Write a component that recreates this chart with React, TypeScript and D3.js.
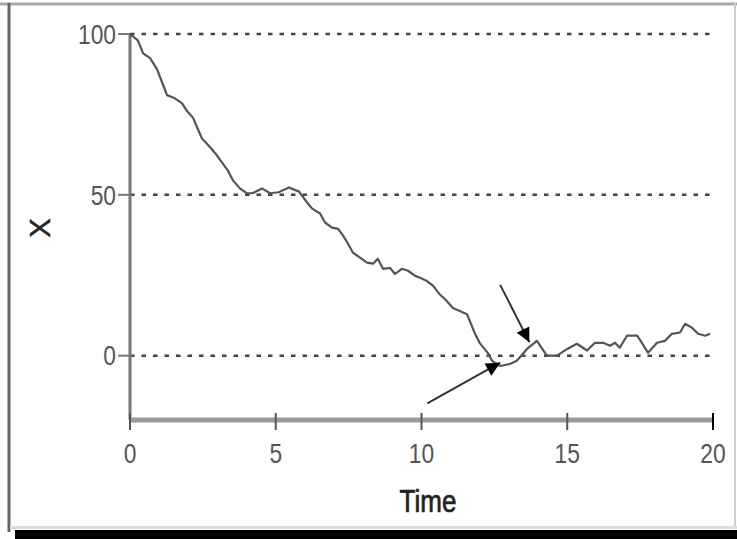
import React, { useEffect, useRef } from 'react'
import * as d3 from 'd3'

// time samples and X values
const times = [0, 0.27, 0.45, 0.69, 0.93, 1.1, 1.27, 1.54, 1.78, 1.96, 2.16, 2.3, 2.47, 2.68, 2.92, 3.16, 3.36, 3.53, 3.77, 4.0, 4.2, 4.53, 4.8, 5.1, 5.45, 5.8, 6.07, 6.24, 6.52, 6.69, 6.93, 7.14, 7.31, 7.48, 7.65, 7.89, 8.13, 8.34, 8.5, 8.68, 8.92, 9.09, 9.33, 9.54, 9.78, 9.95, 10.19, 10.4, 10.63, 10.8, 11.08, 11.56, 11.73, 11.84, 12.0, 12.28, 12.42, 12.7, 13.03, 13.27, 13.62, 13.96, 14.3, 14.65, 15.0, 15.33, 15.68, 15.95, 16.23, 16.47, 16.64, 16.8, 17.05, 17.4, 17.56, 17.77, 18.08, 18.35, 18.59, 18.87, 19.04, 19.28, 19.49, 19.73, 19.9]
const xValues = [100, 98, 94, 92.5, 89, 85, 81, 80, 78.5, 76, 74, 71, 67.5, 65.5, 63, 60, 57.5, 54.5, 52, 50.5, 50.5, 52, 50.5, 50.8, 52.3, 51, 47.7, 45.8, 44.2, 41.4, 39.8, 39.4, 37.3, 34.8, 32, 30.5, 28.9, 28.6, 30.1, 27, 27.3, 25.4, 27, 26.4, 24.8, 24.2, 23.2, 21.7, 19, 17.6, 14.8, 12.9, 9.2, 6.7, 3.9, 0.8, -1.6, -3.2, -2.6, -1.6, 2.1, 4.6, 0, 0, 2.1, 3.7, 1.6, 4, 4, 3.1, 4, 2.5, 6.2, 6.2, 4, 0.9, 4, 4.6, 6.8, 7.2, 9.9, 8.7, 6.8, 6.2, 6.8]

const xTicks = [0, 5, 10, 15, 20]
const yTicks = [0, 50, 100]

// arrows: [fromTime, fromX, toTime, toX]
const arrows = [
    [10.2, -14.8, 12.7, -2.2],
    [12.7, 22, 13.7, 4.2]
]

const font = 'Liberation Sans, Arial, sans-serif'

export default function App() {
    const ref = useRef(null)

    useEffect(() => {
        const width = 737
        const height = 539
        const svg = d3.select(ref.current)
        svg.selectAll('*').remove()

        /* frame */
        svg.append('rect').attr('width', width).attr('height', height).attr('fill', '#fff')
        svg.append('line').attr('x1', 0).attr('x2', width).attr('y1', 4).attr('y2', 4)
            .attr('stroke', '#aaa').attr('stroke-width', 3)
        svg.append('line').attr('x1', 9).attr('x2', 9).attr('y1', 3).attr('y2', 532)
            .attr('stroke', '#666').attr('stroke-width', 3)
        svg.append('line').attr('x1', 735).attr('x2', 735).attr('y1', 3).attr('y2', 527)
            .attr('stroke', '#ccc').attr('stroke-width', 2)
        svg.append('line').attr('x1', 10).attr('x2', width).attr('y1', 527.5).attr('y2', 527.5)
            .attr('stroke', '#ddd').attr('stroke-width', 3)
        svg.append('rect').attr('x', 15).attr('y', 530).attr('width', width - 15).attr('height', 9)
            .attr('fill', '#000')

        /* scales */
        const xScale = d3.scaleLinear().domain([0, 20]).range([130, 713])
        const yScale = d3.scaleLinear().domain([-20, 100]).range([420, 34])

        /* grid */
        svg.append('g').selectAll('line').data(yTicks).enter().append('line')
            .attr('x1', xScale(0)).attr('x2', xScale(20))
            .attr('y1', d => yScale(d)).attr('y2', d => yScale(d))
            .attr('stroke', '#444').attr('stroke-width', 2.5)
            .attr('stroke-dasharray', '4.5 7')

        /* y axis */
        svg.append('line').attr('x1', xScale(0)).attr('x2', xScale(0))
            .attr('y1', yScale(100)).attr('y2', yScale(-20))
            .attr('stroke', '#777').attr('stroke-width', 3)
        svg.append('g').selectAll('line').data(yTicks).enter().append('line')
            .attr('x1', xScale(0) - 12).attr('x2', xScale(0))
            .attr('y1', d => yScale(d)).attr('y2', d => yScale(d))
            .attr('stroke', '#777').attr('stroke-width', 2)
        svg.append('g').selectAll('text').data(yTicks).enter().append('text')
            .attr('transform', d => `translate(${xScale(0) - 14},${yScale(d)}) scale(0.95,1.15)`)
            .attr('text-anchor', 'end').attr('dominant-baseline', 'central')
            .attr('font-family', font).attr('font-size', 24)
            .attr('fill', '#555')
            .text(d => d)

        /* x axis */
        svg.append('line').attr('x1', xScale(0)).attr('x2', xScale(20))
            .attr('y1', yScale(-20)).attr('y2', yScale(-20))
            .attr('stroke', '#9a9a9a').attr('stroke-width', 5)
        svg.append('g').selectAll('line').data(xTicks).enter().append('line')
            .attr('x1', d => xScale(d)).attr('x2', d => xScale(d))
            .attr('y1', yScale(-20) - 7).attr('y2', yScale(-20) + 10)
            .attr('stroke', d => d === 20 ? '#000' : '#555').attr('stroke-width', 2)
        svg.append('g').selectAll('text').data(xTicks).enter().append('text')
            .attr('transform', d => `translate(${xScale(d)},453) scale(0.95,1.15)`)
            .attr('text-anchor', 'middle').attr('dominant-baseline', 'central')
            .attr('font-family', font).attr('font-size', 24)
            .attr('fill', '#555')
            .text(d => d)

        /* axis titles */
        svg.append('text')
            .attr('transform', 'translate(428,501) scale(1,1.2)')
            .attr('text-anchor', 'middle').attr('dominant-baseline', 'central')
            .attr('font-family', font).attr('font-size', 26)
            .attr('fill', '#222').attr('stroke', '#222').attr('stroke-width', 0.6)
            .text('Time')
        svg.append('text')
            .attr('transform', 'translate(40,228) rotate(-90)')
            .attr('text-anchor', 'middle').attr('dominant-baseline', 'central')
            .attr('font-family', font).attr('font-size', 29)
            .attr('fill', '#222').attr('stroke', '#222').attr('stroke-width', 0.5)
            .text('X')

        /* data line */
        const data = times.map((t, i) => ({ t: t, v: xValues[i] }))
        const line = d3.line().x(d => xScale(d.t)).y(d => yScale(d.v))
        svg.append('path').datum(data)
            .attr('d', line)
            .attr('fill', 'none').attr('stroke', '#555').attr('stroke-width', 2.2)
            .attr('stroke-linejoin', 'round')

        /* arrows */
        svg.append('defs').append('marker')
            .attr('id', 'head').attr('viewBox', '0 0 10 10')
            .attr('refX', 10).attr('refY', 5)
            .attr('markerWidth', 9).attr('markerHeight', 7)
            .attr('markerUnits', 'strokeWidth')
            .attr('orient', 'auto')
            .append('path').attr('d', 'M0,0L10,5L0,10Z').attr('fill', '#000')
        svg.append('g').selectAll('line').data(arrows).enter().append('line')
            .attr('x1', d => xScale(d[0])).attr('y1', d => yScale(d[1]))
            .attr('x2', d => xScale(d[2])).attr('y2', d => yScale(d[3]))
            .attr('stroke', '#333').attr('stroke-width', 2)
            .attr('marker-end', 'url(#head)')
    }, [])

    return (
        <svg ref={ref} width={737} height={539} style={{ position: 'absolute', left: 0, top: 0 }}>
        </svg>
    )
}
